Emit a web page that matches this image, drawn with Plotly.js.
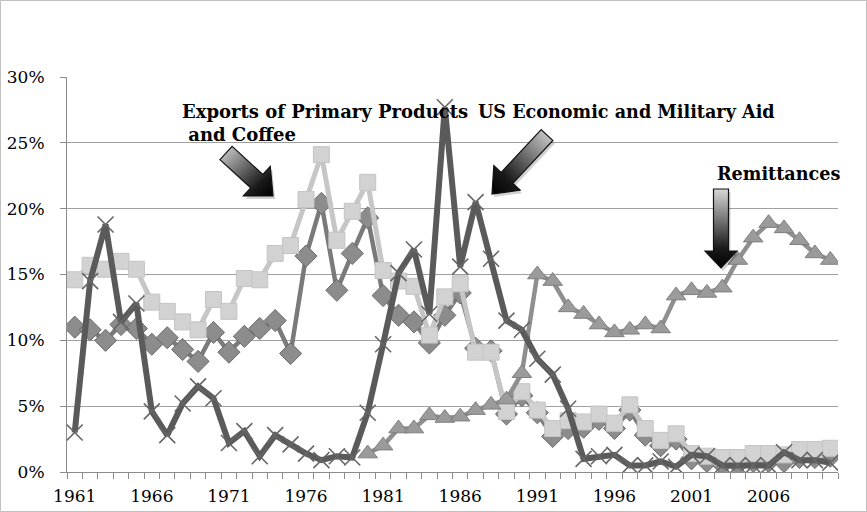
<!DOCTYPE html>
<html>
<head>
<meta charset="utf-8">
<script src="https://cdn.plot.ly/plotly-3.0.1.min.js"></script>
<style>
html,body{margin:0;padding:0;background:#fff;}
#chart{width:867px;height:512px;}
</style>
</head>
<body>
<div id="chart"></div>
<script>
// ---- data (percent) ----
const years = [1961,1962,1963,1964,1965,1966,1967,1968,1969,1970,1971,1972,1973,1974,1975,1976,1977,1978,1979,1980,
  1981,1982,1983,1984,1985,1986,1987,1988,1989,1990,1991,1992,1993,1994,1995,1996,1997,1998,1999,2000,
  2001,2002,2003,2004,2005,2006,2007,2008,2009,2010];
const xTickYears = [1961,1966,1971,1976,1981,1986,1991,1996,2001,2006];

const primaryExports = [11.0,10.8,10.0,11.2,10.9,9.7,10.2,9.3,8.4,10.6,9.1,10.3,10.9,11.5,9.0,16.4,20.4,13.8,16.6,19.3,
  13.4,11.9,11.4,9.8,11.9,13.6,9.4,9.2,4.4,5.8,4.5,2.7,3.3,3.4,4.0,3.3,4.7,2.8,2.0,2.5,
  1.0,0.8,0.6,0.6,0.8,0.8,0.8,1.1,1.1,1.2];
const coffeeExports = [14.6,15.7,15.4,16.0,15.4,12.9,12.2,11.4,10.8,13.1,12.2,14.7,14.6,16.6,17.2,20.7,24.1,17.6,19.8,22.0,
  15.3,14.5,14.1,10.4,13.3,14.3,9.1,9.1,4.6,6.1,4.7,3.3,3.9,3.8,4.4,3.7,5.1,3.3,2.4,2.9,
  1.4,1.2,1.1,1.1,1.4,1.4,1.3,1.7,1.7,1.8];
const remittances = [null,null,null,null,null,null,null,null,null,null,null,null,null,null,null,null,null,null,null,1.4,
  2.0,3.3,3.3,4.3,4.1,4.2,4.7,5.1,5.5,7.5,15.0,14.5,12.5,12.0,11.2,10.6,10.8,11.2,10.9,13.4,
  13.8,13.6,14.0,16.1,17.8,18.9,18.5,17.6,16.6,16.1];
const usAid = [3.0,14.5,18.8,11.4,12.8,4.6,2.8,5.2,6.5,5.6,2.2,3.1,1.2,2.8,2.1,1.4,0.9,1.2,1.1,4.5,
  9.7,15.1,16.9,12.0,27.7,15.6,20.5,16.2,11.5,10.8,8.6,7.4,4.8,1.0,1.2,1.3,0.5,0.5,0.8,0.4,
  1.3,1.2,0.5,0.5,0.5,0.5,1.5,0.9,0.9,0.7];

const labelExports1 = "Exports of Primary Products";
const labelExports2 = " and Coffee";
const labelAid = "US Economic and Military Aid";
const labelRemit = "Remittances";

// ---- plot geometry helpers (pixels -> paper) ----
const L = 67, R = 838, T = 77, B = 472;
const W = 867, H = 512;
const px = p => (p - L) / (R - L);
const py = p => (B - p) / (B - T);

function arrowPath(tx, ty, hx, hy, shaftW, headW, headL, dx, dy) {
  dx = dx || 0; dy = dy || 0;
  const vx = hx - tx, vy = hy - ty;
  const len = Math.hypot(vx, vy);
  const ux = vx / len, uy = vy / len;
  const nx = -uy, ny = ux;
  const bx = hx - ux * headL, by = hy - uy * headL;
  const pts = [
    [tx + nx * shaftW / 2, ty + ny * shaftW / 2],
    [bx + nx * shaftW / 2, by + ny * shaftW / 2],
    [bx + nx * headW / 2, by + ny * headW / 2],
    [hx, hy],
    [bx - nx * headW / 2, by - ny * headW / 2],
    [bx - nx * shaftW / 2, by - ny * shaftW / 2],
    [tx - nx * shaftW / 2, ty - ny * shaftW / 2]
  ];
  return 'M' + pts.map(p => px(p[0] + dx).toFixed(5) + ',' + py(p[1] + dy).toFixed(5)).join(' L') + ' Z';
}

const arrows = [
  [226, 153, 273, 196, 18, 40, 22],
  [547, 135, 492, 194, 16, 36, 22],
  [721, 189, 721, 268, 15, 32, 17]
];

const shapes = [];
// outer frame
shapes.push({type:'rect', xref:'paper', yref:'paper', x0:px(0.5), x1:px(W-0.5), y0:py(H-0.5), y1:py(0.5),
  line:{color:'#c0c0c0', width:1}, fillcolor:'rgba(0,0,0,0)', layer:'below'});
// shadows
arrows.forEach(a => shapes.push({type:'path', xref:'paper', yref:'paper', layer:'above',
  path: arrowPath(a[0],a[1],a[2],a[3],a[4],a[5],a[6],2,3), fillcolor:'rgba(0,0,0,0.18)', line:{width:0}}));
// arrows
arrows.forEach(a => shapes.push({type:'path', xref:'paper', yref:'paper', layer:'above',
  path: arrowPath(a[0],a[1],a[2],a[3],a[4],a[5],a[6]), fillcolor:'#555555', line:{color:'#111111', width:1.2}}));

const data = [
  {x: years, y: primaryExports, type:'scatter', mode:'lines+markers', name:'Primary products',
   line:{color:'#7a7a7a', width:4.5},
   marker:{symbol:'diamond', size:17, color:'#8c8c8c', line:{color:'#6a6a6a', width:1}}},
  {x: years, y: coffeeExports, type:'scatter', mode:'lines+markers', name:'Coffee',
   line:{color:'#c6c6c6', width:5},
   marker:{symbol:'square', size:16, color:'#d2d2d2', line:{color:'#c4c4c4', width:1}}},
  {x: years, y: remittances, type:'scatter', mode:'lines+markers', name:'Remittances',
   line:{color:'#8f8f8f', width:4.5},
   marker:{symbol:'triangle-up', size:17, color:'#9b9b9b', line:{color:'#7f7f7f', width:1}}},
  {x: years, y: usAid, type:'scatter', mode:'lines+markers', name:'US Aid',
   line:{color:'#5a5a5a', width:6},
   marker:{symbol:'x-thin', size:16, color:'#5a5a5a', line:{color:'#666666', width:1.6}}}
];

const annFont = {family:'DejaVu Serif', size:17.6, color:'#000'};
const annotations = [
  {xref:'paper', yref:'paper', x:px(180), y:py(111), xanchor:'left', yanchor:'middle', showarrow:false,
   text:'<b>'+labelExports1+'</b>', font:{family:'DejaVu Serif', size:18, color:'#000'}},
  {xref:'paper', yref:'paper', x:px(180), y:py(134), xanchor:'left', yanchor:'middle', showarrow:false,
   text:'<b>'+labelExports2+'</b>', font:{family:'DejaVu Serif', size:18, color:'#000'}},
  {xref:'paper', yref:'paper', x:px(476), y:py(111), xanchor:'left', yanchor:'middle', showarrow:false,
   text:'<b>'+labelAid+'</b>', font:annFont},
  {xref:'paper', yref:'paper', x:px(715), y:py(173), xanchor:'left', yanchor:'middle', showarrow:false,
   text:'<b>'+labelRemit+'</b>', font:annFont}
];

const tickFont = {family:'DejaVu Serif', size:17, color:'#000'};
const layout = {
  width: W, height: H,
  margin:{l:L, r:W-R, t:T, b:H-B, pad:0},
  paper_bgcolor:'#ffffff', plot_bgcolor:'#ffffff',
  showlegend:false,
  font:{family:'DejaVu Serif', size:17, color:'#000'},
  xaxis:{
    range:[1960.5, 2010.5], showgrid:false, zeroline:false,
    showline:true, linecolor:'#8c8c8c', linewidth:1,
    tickmode:'array', tickvals:xTickYears, ticktext:xTickYears.map(String),
    ticks:'', ticklabelstandoff:9,
    minor:{ticks:'outside', tick0:1960.5, dtick:1, ticklen:6, tickcolor:'#8c8c8c', tickwidth:1, showgrid:false},
    tickfont:tickFont
  },
  yaxis:{
    range:[0, 30], dtick:5, tick0:0, ticksuffix:'%',
    showgrid:true, gridcolor:'#a0a0a0', gridwidth:1,
    zeroline:false, showline:true, linecolor:'#8c8c8c', linewidth:1,
    ticks:'outside', ticklen:6, tickcolor:'#8c8c8c', ticklabelstandoff:12,
    tickfont:tickFont
  },
  shapes: shapes,
  annotations: annotations
};

Plotly.newPlot('chart', data, layout, {staticPlot:true, displayModeBar:false}).then(gd => {
  const ns = 'http://www.w3.org/2000/svg';
  const svg = gd.querySelector('svg.main-svg');
  let defs = svg.querySelector('defs');
  if (!defs) { defs = document.createElementNS(ns, 'defs'); svg.insertBefore(defs, svg.firstChild); }
  const dirs = [[0,0,1,1],[1,0,0,1],[0,0,0,1]];
  dirs.forEach((d, i) => {
    const g = document.createElementNS(ns, 'linearGradient');
    g.setAttribute('id', 'arrowGrad' + i);
    g.setAttribute('x1', d[0]); g.setAttribute('y1', d[1]);
    g.setAttribute('x2', d[2]); g.setAttribute('y2', d[3]);
    const s1 = document.createElementNS(ns, 'stop');
    s1.setAttribute('offset', '0'); s1.setAttribute('stop-color', '#d8d8d8');
    const s2 = document.createElementNS(ns, 'stop');
    s2.setAttribute('offset', '0.75'); s2.setAttribute('stop-color', '#1a1a1a');
    const s3 = document.createElementNS(ns, 'stop');
    s3.setAttribute('offset', '1'); s3.setAttribute('stop-color', '#000000');
    g.appendChild(s1); g.appendChild(s2); g.appendChild(s3);
    defs.appendChild(g);
  });
  const paths = gd.querySelectorAll('.shapelayer path');
  paths.forEach(p => {
    const idx = +p.getAttribute('data-index');
    if (idx >= 4 && idx <= 6) p.style.fill = 'url(#arrowGrad' + (idx - 4) + ')';
  });
});
</script>
</body>
</html>
